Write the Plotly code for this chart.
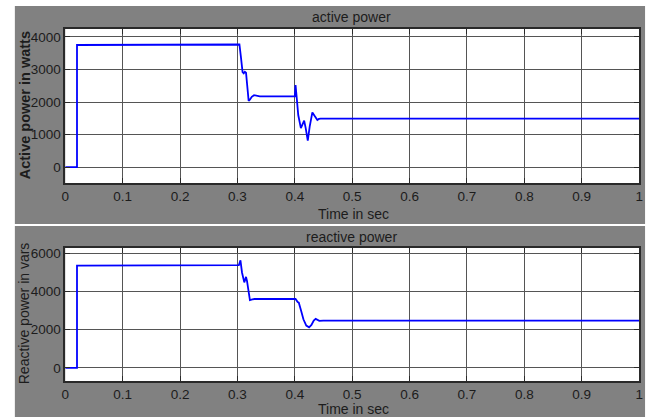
import plotly.graph_objects as go

# ---------------- data ----------------
t_active = [0, 0.0205, 0.0205, 0.14, 0.14, 0.3035, 0.306, 0.309, 0.311, 0.313, 0.315, 0.317,
            0.3196, 0.322, 0.325, 0.329, 0.333, 0.339, 0.400, 0.4013, 0.403, 0.406, 0.4106,
            0.4135, 0.4163, 0.419, 0.4226, 0.426, 0.4306, 0.435, 0.4393, 0.442, 0.445, 1.0]
p_active = [0, 0, 3750, 3750, 3765, 3765, 3400, 2920, 2880, 2930, 2900, 2500,
            2030, 2080, 2160, 2210, 2185, 2170, 2170, 2520, 2200, 1600, 1200,
            1300, 1430, 1200, 815, 1250, 1680, 1560, 1450, 1480, 1490, 1490]

t_reactive = [0, 0.0205, 0.0205, 0.085, 0.085, 0.3025, 0.3053, 0.308, 0.312, 0.315, 0.3167,
              0.3195, 0.3218, 0.326, 0.33, 0.40, 0.4013, 0.405, 0.407, 0.411, 0.415, 0.42,
              0.4249, 0.429, 0.433, 0.4364, 0.4395, 0.4427, 0.4496, 1.0]
q_reactive = [0, 0, 5360, 5360, 5380, 5380, 5640, 5000, 4480, 4770, 4560,
              4000, 3555, 3590, 3610, 3610, 3610, 3450, 3420, 3000, 2550, 2220,
              2130, 2250, 2480, 2570, 2530, 2470, 2483, 2483]

x_ticks = [0, 0.1, 0.2, 0.3, 0.4, 0.5, 0.6, 0.7, 0.8, 0.9, 1]
x_tick_text = ["0", "0.1", "0.2", "0.3", "0.4", "0.5", "0.6", "0.7", "0.8", "0.9", "1"]
y_ticks_top = [0, 1000, 2000, 3000, 4000]
y_ticks_bottom = [0, 2000, 4000, 6000]

# ---------------- layout helpers ----------------
W, H = 654, 417
def px(x):
    return x / W
def py(y):
    return 1 - y / H

FONT = "Liberation Sans, Arial, sans-serif"
TXT = "#1c1c1c"
GRAY = "#818181"

fig = go.Figure()
fig.add_trace(go.Scatter(x=t_active, y=p_active, mode="lines",
                         line=dict(color="#0000ff", width=1.8), xaxis="x", yaxis="y",
                         showlegend=False, hoverinfo="skip"))
fig.add_trace(go.Scatter(x=t_reactive, y=q_reactive, mode="lines",
                         line=dict(color="#0000ff", width=1.8), xaxis="x2", yaxis="y2",
                         showlegend=False, hoverinfo="skip"))

axis_common = dict(
    showgrid=True, gridcolor="#555555", gridwidth=1,
    showline=True, linecolor="#2a2a2a", linewidth=1.5, mirror="allticks",
    ticks="inside", ticklen=5, tickcolor="#2a2a2a", tickwidth=1,
    zeroline=False, tickfont=dict(family=FONT, size=13.5, color=TXT),
)

def ann(text, x, y, size=14, angle=0):
    return dict(text=text, x=px(x), y=py(y), xref="paper", yref="paper",
                xanchor="center", yanchor="middle", showarrow=False, textangle=angle,
                font=dict(family=FONT, size=size, color=TXT))

xdom = [px(62), px(643)]
fig.update_layout(
    width=W, height=H,
    margin=dict(l=0, r=0, t=0, b=0),
    paper_bgcolor="white", plot_bgcolor="white",
    xaxis=dict(domain=xdom, range=[0, 1], tickvals=x_ticks, ticktext=x_tick_text,
               anchor="y", **axis_common),
    yaxis=dict(domain=[py(182), py(27)], range=[-490, 4245], tickvals=y_ticks_top,
               anchor="x", **axis_common),
    xaxis2=dict(domain=xdom, range=[0, 1], tickvals=x_ticks, ticktext=x_tick_text,
                anchor="y2", **axis_common),
    yaxis2=dict(domain=[py(381), py(247)], range=[-693, 6292], tickvals=y_ticks_bottom,
                anchor="x2", **axis_common),
    shapes=[
        dict(type="rect", xref="paper", yref="paper", x0=px(11), x1=px(649),
             y0=py(223), y1=py(4), fillcolor=GRAY, line=dict(width=0), layer="below"),
        dict(type="rect", xref="paper", yref="paper", x0=px(11), x1=px(649),
             y0=py(417), y1=py(225), fillcolor=GRAY, line=dict(width=0), layer="below"),
        dict(type="rect", xref="paper", yref="paper", x0=px(62), x1=px(643),
             y0=py(182), y1=py(27), fillcolor="white", line=dict(width=0), layer="below"),
        dict(type="rect", xref="paper", yref="paper", x0=px(62), x1=px(643),
             y0=py(381), y1=py(247), fillcolor="white", line=dict(width=0), layer="below"),
    ],
    annotations=[
        ann("active power", 352, 15),
        ann("reactive power", 352, 236),
        ann("Time in sec", 354, 213),
        ann("Time in sec", 354, 409),
        ann("<b>Active power in watts</b>", 21, 104, size=14.5, angle=-90),
        ann("Reactive power in vars", 21, 313, size=14, angle=-90),
    ],
)

fig.write_html("out.html",
               config={"displayModeBar": False},
               post_script="document.body.style.margin='0';document.body.style.overflow='hidden';")
